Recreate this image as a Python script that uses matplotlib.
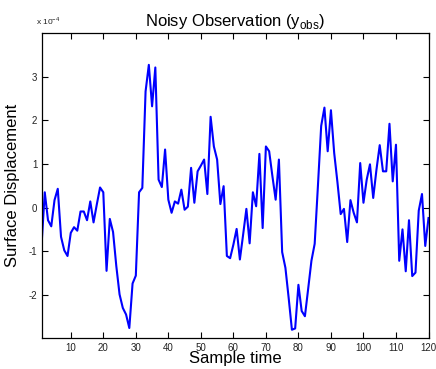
import numpy as np
import matplotlib
matplotlib.use("Agg")
import matplotlib.pyplot as plt
from matplotlib.ticker import FuncFormatter, FixedLocator

plt.rcParams['font.family'] = ['Liberation Sans', 'DejaVu Sans']

# Data (values in units of 1e-4)
sample_time = np.arange(1, 121)
y_obs_e4 = [
    -0.88, 0.35, -0.29, -0.43, 0.17, 0.43, -0.67, -0.98, -1.11, -0.58,
    -0.45, -0.53, -0.09, -0.09, -0.29, 0.14, -0.34, 0.07, 0.46, 0.35,
    -1.45, -0.26, -0.56, -1.34, -1.99, -2.30, -2.45, -2.76, -1.74, -1.56,
    0.35, 0.45, 2.66, 3.27, 2.32, 3.21, 0.64, 0.47, 1.33, 0.18,
    -0.12, 0.14, 0.09, 0.41, -0.05, 0.02, 0.91, 0.11, 0.83, 0.96,
    1.10, 0.31, 2.08, 1.40, 1.10, 0.08, 0.49, -1.11, -1.16, -0.85,
    -0.49, -1.19, -0.62, -0.03, -0.82, 0.35, 0.03, 1.23, -0.47, 1.40,
    1.29, 0.72, 0.18, 1.10, -1.02, -1.38, -2.07, -2.80, -2.77, -1.77,
    -2.37, -2.49, -1.86, -1.22, -0.83, 0.50, 1.87, 2.29, 1.29, 2.23,
    1.25, 0.58, -0.15, -0.03, -0.79, 0.17, -0.12, -0.34, 1.02, 0.11,
    0.64, 0.99, 0.22, 0.87, 1.43, 0.83, 0.83, 1.92, 0.60, 1.44,
    -1.22, -0.50, -1.46, -0.29, -1.57, -1.49, -0.07, 0.31, -0.88, -0.24,
]
y_obs = np.array(y_obs_e4) * 1e-4
x_ticks = [10, 20, 30, 40, 50, 60, 70, 80, 90, 100, 110, 120]
y_ticks = [-2e-4, -1e-4, 0, 1e-4, 2e-4, 3e-4]

fig = plt.figure(figsize=(4.36, 3.69), dpi=100)
ax = fig.add_axes([0.0952, 0.0827, 0.8876, 0.8279])
ax.plot(sample_time, y_obs, color=(0, 0, 1), linewidth=1.5)
ax.set_xlim(1, 120)
ax.set_ylim(-3e-4, 4e-4)
ax.xaxis.set_major_locator(FixedLocator(x_ticks))
ax.yaxis.set_major_locator(FixedLocator(y_ticks))
ax.yaxis.set_major_formatter(FuncFormatter(lambda v, p: f"{round(v / 1e-4):d}"))
ax.tick_params(direction='in', length=4, width=0.8, labelsize=7,
               top=True, right=True, pad=3, colors='black', labelcolor='#222222')
for s in ax.spines.values():
    s.set_linewidth(0.9)

ax.set_title('Noisy Observation (y$_{\\mathregular{obs}}$)', fontsize=12, pad=5)
ax.set_xlabel('Sample time', fontsize=12, labelpad=-1)
ax.set_ylabel('Surface Displacement', fontsize=12, labelpad=6)
ax.text(-0.015, 1.02, 'x 10$^{\\mathregular{-4}}$', transform=ax.transAxes,
        fontsize=6, ha='left', va='bottom', color='#222222')

fig.savefig('out.png', dpi=100)
